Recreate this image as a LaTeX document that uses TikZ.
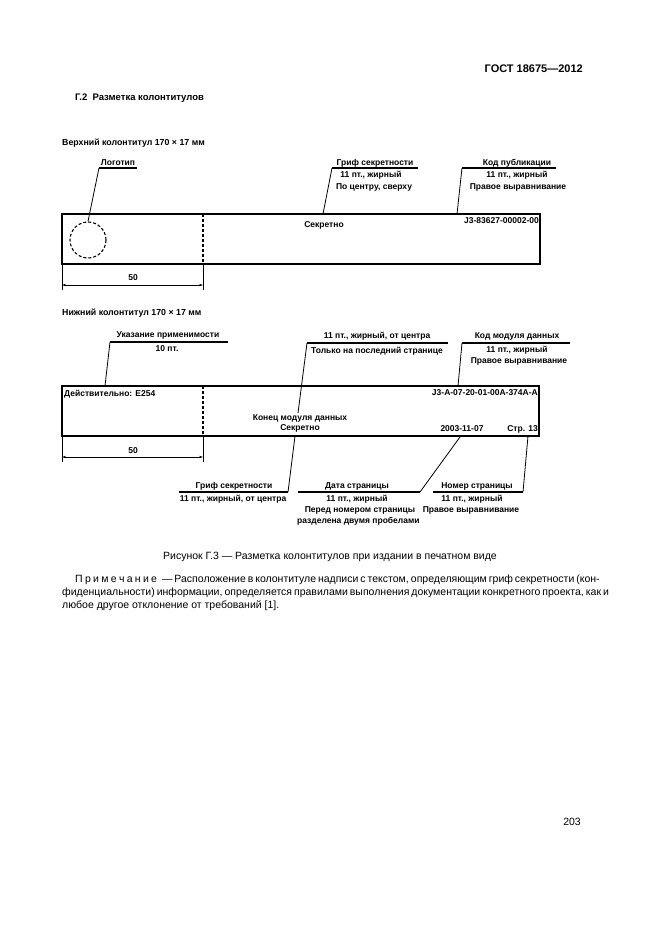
\documentclass[tikz,border=0pt]{standalone}
\usepackage{fontspec}
\setmainfont{Liberation Sans}
\usetikzlibrary{arrows.meta}
\begin{document}
\begin{tikzpicture}[x=1pt,y=-1pt,
  lbl/.style={inner sep=0pt,font=\fontsize{8.5}{10}\selectfont\bfseries},
  txt/.style={inner sep=0pt,font=\fontsize{10.5}{13}\selectfont},
  frame/.style={line width=1.6pt},
  dashline/.style={line width=1.1pt,dash pattern=on 3pt off 2pt},
  leader/.style={line width=0.8pt},
  uline/.style={line width=1.1pt},
  dim/.style={line width=0.9pt,{Stealth[length=4pt,width=2.4pt]}-{Stealth[length=4pt,width=2.4pt]}},
  ext/.style={line width=0.9pt}]
\fill[white] (0,0) rectangle (661,936);
\useasboundingbox (0,0) rectangle (661,936);

% headers
\node[inner sep=0pt,anchor=east,font=\fontsize{11}{13}\selectfont\bfseries] (gost) at (583,69) {ГОСТ 18675—2012};
\node[inner sep=0pt,anchor=west,font=\fontsize{9.5}{11}\selectfont\bfseries] (sect) at (75,98) {Г.2\ \ Разметка колонтитулов};

% ================= upper header =================
\node[lbl,anchor=west,font=\fontsize{8.8}{10}\selectfont\bfseries] (uptitle) at (62,143) {Верхний колонтитул 170 × 17 мм};
\draw[frame] (62,214) rectangle (540,264);
\coordinate (ud1) at (203,214);
\coordinate (ud2) at (203,264);
\draw[dashline] (ud1) -- (ud2);
\node[draw,dashline,circle,minimum size=36pt,inner sep=0pt] (logo) at (88,240) {};

% dimension
\coordinate (ue1a) at (62,264); \coordinate (ue1b) at (62,290);
\coordinate (ue2a) at (203,264); \coordinate (ue2b) at (203,290);
\draw[ext] (ue1a) -- (ue1b);
\draw[ext] (ue2a) -- (ue2b);
\coordinate (udl) at (62,285); \coordinate (udr) at (203,285);
\draw[dim] (udl) -- (udr);
\node[lbl] (u50) at (133,278) {50};

% Логотип
\node[lbl] (logot) at (118,163) {Логотип};
\coordinate (lo1) at (99,168); \coordinate (lo2) at (137,168);
\draw[uline] (lo1) -- (lo2);
\draw[leader] (lo1) -- (logo.north);

% Гриф секретности (upper)
\node[lbl] (ugrif) at (375,163) {Гриф секретности};
\coordinate (ug1) at (332,168); \coordinate (ug2) at (418,168);
\draw[uline] (ug1) -- (ug2);
\node[lbl] (ug11) at (371,175.5) {11 пт., жирный};
\node[lbl] (ugc) at (374,187) {По центру, сверху};
\coordinate (ugb) at (323,214);
\draw[leader] (ug1) -- (ugb);
\node[lbl] (usekr) at (324,225) {Секретно};

% Код публикации
\node[lbl] (ukod) at (517,163) {Код публикации};
\coordinate (uk1) at (462,168); \coordinate (uk2) at (556,168);
\draw[uline] (uk1) -- (uk2);
\node[lbl] (uk11) at (517,175.5) {11 пт., жирный};
\node[lbl] (ukpr) at (518,187) {Правое выравнивание};
\coordinate (ukb) at (457,214);
\draw[leader] (uk1) -- (ukb);
\node[lbl,anchor=east] (ucode) at (539,221) {J3-83627-00002-00};

% ================= lower header =================
\node[lbl,anchor=west,font=\fontsize{8.8}{10}\selectfont\bfseries] (lotitle) at (62,313) {Нижний колонтитул 170 × 17 мм};
\draw[frame] (62,386) rectangle (539,436);
\coordinate (ld1) at (203,386);
\coordinate (ld2) at (203,436);
\draw[dashline] (ld1) -- (ld2);

% dimension
\coordinate (le1a) at (62,436); \coordinate (le1b) at (62,462);
\coordinate (le2a) at (203,436); \coordinate (le2b) at (203,462);
\draw[ext] (le1a) -- (le1b);
\draw[ext] (le2a) -- (le2b);
\coordinate (ldl) at (62,457); \coordinate (ldr) at (203,457);
\draw[dim] (ldl) -- (ldr);
\node[lbl] (l50) at (133,451) {50};

% Указание применимости
\node[lbl] (lukaz) at (168,335.5) {Указание применимости};
\coordinate (la1) at (110,342); \coordinate (la2) at (228,342);
\draw[uline] (la1) -- (la2);
\node[lbl] (la10) at (167,348.5) {10 пт.};
\coordinate (lab) at (105,386);
\draw[leader] (la1) -- (lab);

% 11 пт., жирный, от центра
\node[lbl] (lcen) at (377,336) {11 пт., жирный, от центра};
\coordinate (lc1) at (307,343); \coordinate (lc2) at (448,343);
\draw[uline] (lc1) -- (lc2);
\node[lbl] (lcol) at (377,351) {Только на последний странице};
\coordinate (lcb) at (298,413);
\draw[leader] (lc1) -- (lcb);

% Код модуля данных
\node[lbl] (lkod) at (517,336) {Код модуля данных};
\coordinate (lk1) at (462,343); \coordinate (lk2) at (570,343);
\draw[uline] (lk1) -- (lk2);
\node[lbl] (lk11) at (517,350) {11 пт., жирный};
\node[lbl] (lkpr) at (519,361) {Правое выравнивание};
\coordinate (lkb) at (458,386);
\draw[leader] (lk1) -- (lkb);

% inside lower box
\node[lbl,anchor=west] (ldeis) at (64,394) {Действительно: E254};
\node[lbl,anchor=east] (lcode) at (538,393) {J3-A-07-20-01-00A-374A-A};
\node[lbl] (lkon) at (300,418) {Конец модуля данных};
\node[lbl] (lsekr) at (300,428.5) {Секретно};
\node[lbl] (ldate) at (462,429) {2003-11-07};
\node[lbl,anchor=east] (lpage) at (538,429) {Стр. 13};

% Гриф секретности (lower)
\node[lbl] (bgrif) at (234,486) {Гриф секретности};
\coordinate (bg1) at (179,492); \coordinate (bg2) at (288,492);
\draw[uline] (bg1) -- (bg2);
\node[lbl] (bg11) at (233,499) {11 пт., жирный, от центра};
\coordinate (bgt) at (295,436);
\draw[leader] (bg2) -- (bgt);

% Дата страницы
\node[lbl] (bdate) at (357,486) {Дата страницы};
\coordinate (bd1) at (298,492); \coordinate (bd2) at (420,492);
\draw[uline] (bd1) -- (bd2);
\node[lbl] (bd11) at (357,499) {11 пт., жирный};
\node[lbl] (bdper) at (360,510.5) {Перед номером страницы};
\node[lbl,anchor=west] (bdraz) at (297,521) {разделена двумя пробелами};
\coordinate (bdt) at (460,437);
\draw[leader] (bd2) -- (bdt);

% Номер страницы
\node[lbl] (bnom) at (477,486) {Номер страницы};
\coordinate (bn1) at (433,492); \coordinate (bn2) at (523,492);
\draw[uline] (bn1) -- (bn2);
\node[lbl] (bn11) at (472,499) {11 пт., жирный};
\node[lbl] (bnpr) at (471,510.5) {Правое выравнивание};
\coordinate (bnt) at (528,436);
\draw[leader] (bn2) -- (bnt);

% caption and note
\node[txt] (capt) at (330,557) {Рисунок Г.3 — Разметка колонтитулов при издании в печатном виде};
\node[txt,anchor=west] (note1) at (75,580) {\makebox[508pt][s]{П\kern2.3ptр\kern2.3ptи\kern2.3ptм\kern2.3ptе\kern2.3ptч\kern2.3ptа\kern2.3ptн\kern2.3ptи\kern2.3ptе\kern5pt— Расположение в колонтитуле надписи с текстом, определяющим гриф секретности (кон-}};
\node[txt,anchor=west] (note2) at (62,593) {\makebox[521pt][s]{фиденциальности) информации, определяется правилами выполнения документации конкретного проекта, как и}};
\node[txt,anchor=west] (note3) at (62,606) {любое другое отклонение от требований [1].};

\node[txt] (pnum) at (572,822) {203};
\end{tikzpicture}
\end{document}
